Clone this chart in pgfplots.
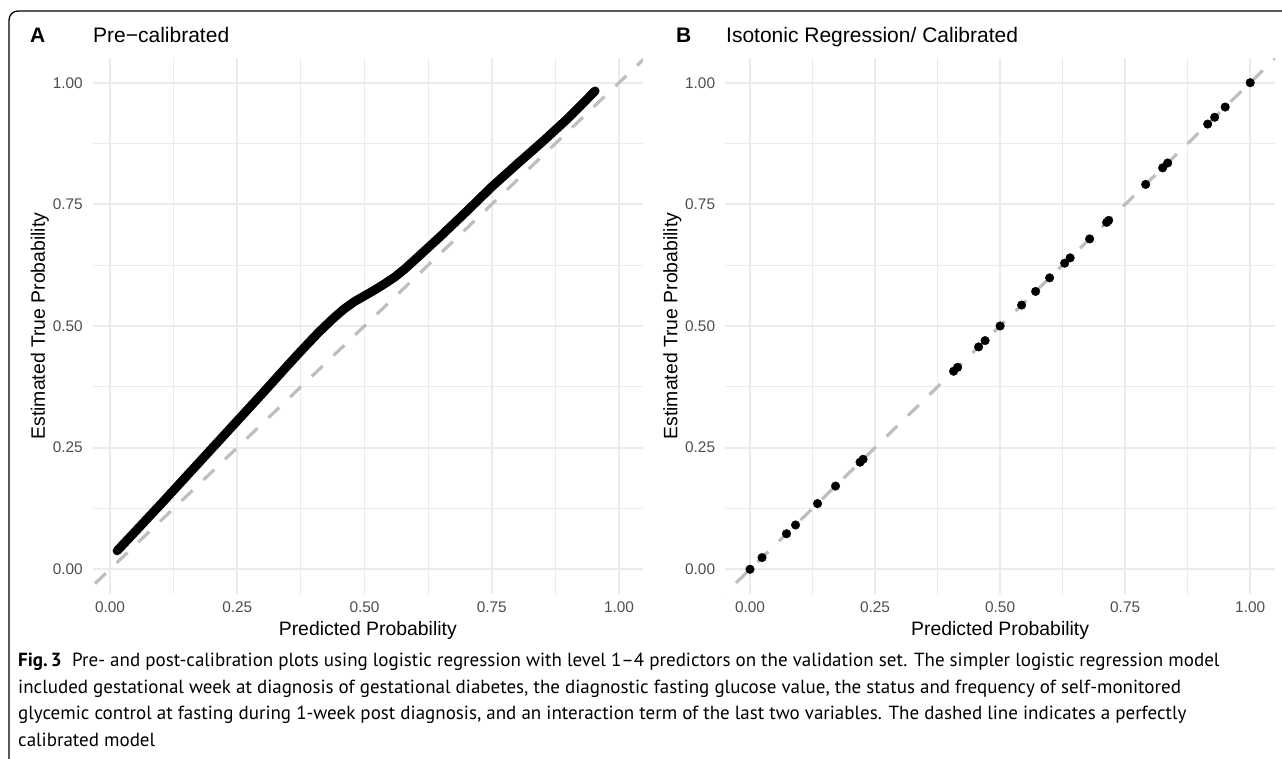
\documentclass[border=0pt]{standalone}
\usepackage{pgfplots}
\pgfplotsset{compat=1.18}
\usepackage{fontspec}
\setmainfont{Liberation Sans}
\newfontfamily\capfont{PT Sans}

\definecolor{gridgray}{HTML}{EBEBEB}
\definecolor{tickgray}{HTML}{4D4D4D}
\definecolor{refgray}{HTML}{BEBEBE}

% shared look of both calibration panels (ggplot theme_minimal)
\pgfplotsset{calplot/.style={
  scale only axis, width=550.2pt, height=535.2pt,
  ymin=-0.05, ymax=1.05,
  axis line style={draw=none},
  major tick length=0pt, minor tick length=0pt,
  xtick={0,0.25,0.5,0.75,1}, ytick={0,0.25,0.5,0.75,1},
  minor xtick={0.125,0.375,0.625,0.875}, minor ytick={0.125,0.375,0.625,0.875},
  xticklabels={0.00,0.25,0.50,0.75,1.00}, yticklabels={0.00,0.25,0.50,0.75,1.00},
  grid=both,
  major grid style={gridgray, line width=1.8pt},
  minor grid style={gridgray, line width=1.2pt},
  ticklabel style={font=\fontsize{15.4}{18}\selectfont, text=tickgray, inner sep=0pt},
  xticklabel style={yshift=-8.4pt},
  yticklabel style={xshift=-9.7pt},
  label style={font=\fontsize{19.4}{22}\selectfont, inner sep=0pt, anchor=base},
  xlabel={Predicted Probability}, ylabel={Estimated True Probability},
  xlabel style={at={(axis description cs:0.5,-0.0774)}},
  ylabel style={at={(axis description cs:-0.0867,0.5)}},
  clip=true,
}}

\begin{document}
\begin{tikzpicture}
\useasboundingbox (0,0) rectangle (1282pt,759pt);
\draw[line width=1.3pt, rounded corners=9pt] (1295pt,748pt) -- (9pt,748pt) -- (9pt,-12pt);

% panel A: pre-calibrated
\begin{axis}[calplot, at={(92.7pt,165.4pt)}, anchor=south west,
  xmin=-0.034, xmax=1.047]
\addplot[refgray, line width=3.2pt, dash pattern=on 15pt off 15pt] coordinates {(-0.2,-0.2) (1.2,1.2)};
\addplot[black, line width=9pt, line cap=round, line join=round] coordinates {
  (0.014,0.038) (0.05,0.078) (0.10,0.134) (0.15,0.191) (0.20,0.248)
  (0.25,0.305) (0.30,0.362) (0.35,0.420) (0.38,0.454) (0.41,0.487)
  (0.44,0.517) (0.46,0.535) (0.48,0.550) (0.50,0.562) (0.52,0.574)
  (0.54,0.587) (0.56,0.601) (0.58,0.618) (0.60,0.637) (0.65,0.685)
  (0.70,0.735) (0.75,0.786) (0.80,0.833) (0.85,0.879) (0.90,0.927)
  (0.953,0.983)
};
\end{axis}

% panel B: isotonic regression
\begin{axis}[calplot, at={(725pt,165.4pt)}, anchor=south west,
  xmin=-0.05, xmax=1.05]
\addplot[refgray, line width=3.2pt, dash pattern=on 15pt off 15pt] coordinates {(-0.2,-0.2) (1.2,1.2)};
\addplot[only marks, mark=*, mark size=4.3pt, black] coordinates {
  (0,0) (0.024,0.024) (0.073,0.073) (0.091,0.091) (0.135,0.135)
  (0.171,0.171) (0.220,0.220) (0.226,0.226) (0.407,0.407) (0.415,0.415)
  (0.457,0.457) (0.470,0.470) (0.500,0.500) (0.543,0.543) (0.571,0.571)
  (0.599,0.599) (0.629,0.629) (0.640,0.640) (0.679,0.679) (0.713,0.713)
  (0.717,0.717) (0.791,0.791) (0.825,0.825) (0.835,0.835) (0.915,0.915)
  (0.929,0.929) (0.950,0.950) (1,1)
};
\end{axis}

% panel tags and titles
\node[anchor=base west, inner sep=0pt, font=\fontsize{21}{24}\selectfont\bfseries] at (30pt,716pt) {A};
\node[anchor=base west, inner sep=0pt, font=\fontsize{21}{24}\selectfont] at (93pt,716pt) {Pre−calibrated};
\node[anchor=base west, inner sep=0pt, font=\fontsize{21}{24}\selectfont\bfseries] at (676pt,716pt) {B};
\node[anchor=base west, inner sep=0pt, font=\fontsize{21}{24}\selectfont] at (726pt,716pt) {Isotonic Regression/ Calibrated};

% figure caption
\begin{scope}[every node/.style={anchor=base west, inner sep=0pt, font=\capfont\fontsize{19}{26}\selectfont}]
\node at (18pt,92pt) {{\bfseries Fig.\,3}\hspace{0.55em}Pre- and post-calibration plots using logistic regression with level 1–4 predictors on the validation set. The simpler logistic regression model};
\node at (18pt,65.5pt) {included gestational week at diagnosis of gestational diabetes, the diagnostic fasting glucose value, the status and frequency of self-monitored};
\node at (18pt,39pt) {glycemic control at fasting during 1-week post diagnosis, and an interaction term of the last two variables. The dashed line indicates a perfectly};
\node at (18pt,12.5pt) {calibrated model};
\end{scope}
\end{tikzpicture}
\end{document}
